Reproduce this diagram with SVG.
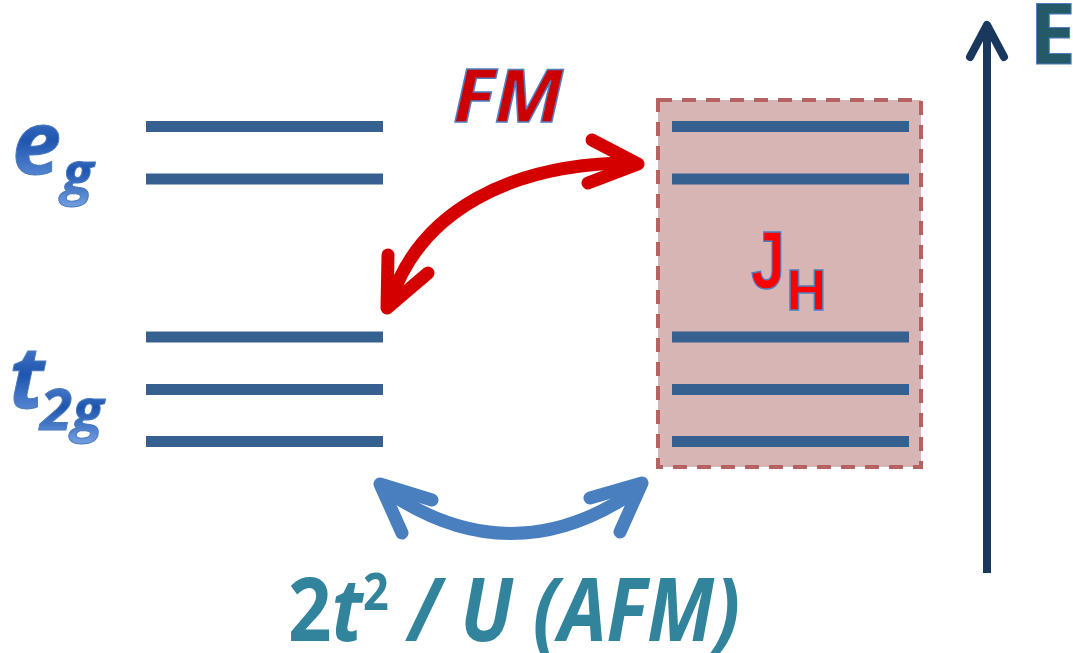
<svg xmlns="http://www.w3.org/2000/svg" width="1073" height="653" viewBox="0 0 1073 653">
<defs>
<linearGradient id="blueGrad" x1="0" y1="0" x2="0" y2="1">
<stop offset="0" stop-color="#6d9be0"/>
<stop offset="0.5" stop-color="#1f55b0"/>
<stop offset="1" stop-color="#7aa6e6"/>
</linearGradient>
<style>
.lvl{stroke:#36608f;stroke-width:11;fill:none}
.fm{stroke:#d40000;stroke-width:13;fill:none;stroke-linecap:round;stroke-linejoin:round}
.afm{stroke:#4a7fbf;stroke-width:13;fill:none;stroke-linecap:round;stroke-linejoin:round}
.lbl{font-family:"Open Sans","Liberation Sans",sans-serif;font-weight:bold}
.orb{fill:url(#blueGrad);stroke:#4a7ab8;stroke-width:1;font-style:italic}
.red{fill:#ff0000;stroke:#4f7fbf;stroke-width:1.5}
</style>
</defs>
<rect width="1073" height="653" fill="#ffffff"/>
<g id="jh-box">
<rect x="658" y="100" width="263" height="367" fill="#d8b5b5" stroke="#b56262" stroke-width="4" stroke-dasharray="14 10"/>
</g>
<g id="left-levels">
<line class="lvl" x1="146" y1="126.5" x2="383" y2="126.5"/>
<line class="lvl" x1="146" y1="179" x2="383" y2="179"/>
<line class="lvl" x1="146" y1="337" x2="383" y2="337"/>
<line class="lvl" x1="146" y1="389.5" x2="383" y2="389.5"/>
<line class="lvl" x1="146" y1="441.5" x2="383" y2="441.5"/>
</g>
<g id="right-levels">
<line class="lvl" x1="672" y1="126.5" x2="909" y2="126.5"/>
<line class="lvl" x1="672" y1="179" x2="909" y2="179"/>
<line class="lvl" x1="672" y1="337" x2="909" y2="337"/>
<line class="lvl" x1="672" y1="389.5" x2="909" y2="389.5"/>
<line class="lvl" x1="672" y1="441.5" x2="909" y2="441.5"/>
</g>
<g id="label-eg">
<text class="lbl orb" x="12" y="174" font-size="88">e</text>
<text class="lbl orb" x="62" y="193" font-size="58">g</text>
</g>
<g id="label-t2g">
<text class="lbl orb" x="9" y="408" font-size="86">t</text>
<text class="lbl orb" x="40" y="430" font-size="58">2g</text>
</g>
<g id="label-fm">
<text class="lbl" x="453" y="122" font-size="74" font-style="italic" fill="#cc0000" stroke="#4f7fbf" stroke-width="1.5" textLength="110" lengthAdjust="spacingAndGlyphs">FM</text>
</g>
<g id="label-jh">
<text class="red" x="751" y="288" font-family="'Liberation Sans',sans-serif" font-weight="bold" font-size="82" textLength="34" lengthAdjust="spacingAndGlyphs">J</text>
<text class="lbl red" x="785" y="310" font-size="56">H</text>
</g>
<g id="label-e">
<text class="lbl" x="1029" y="64" font-size="84" fill="#245a68" stroke="#4f7fbf" stroke-width="1">E</text>
</g>
<g id="label-afm">
<text class="lbl" x="288" y="641" font-size="88" fill="#31849b" textLength="452" lengthAdjust="spacingAndGlyphs">2<tspan font-style="italic">t</tspan><tspan font-size="52" dy="-31">2</tspan><tspan dy="31" font-style="italic"> / U (AFM)</tspan></text>
</g>
<g id="connectors">
<path class="fm" d="M 391,300 C 420,212 510,163 632,163"/>
<polyline class="fm" points="592,140 638,164 588,183"/>
<polyline class="fm" points="388,255 387,308 428,273"/>
<path class="afm" d="M 388,492 Q 511,575 634,492"/>
<polyline class="afm" points="432,500 380,484 402,533"/>
<polyline class="afm" points="590,498 642,483 620,532"/>
<line x1="987" y1="573" x2="987" y2="27" stroke="#1a375e" stroke-width="8"/>
<polyline points="970,57 987,25 1004,57" fill="none" stroke="#1a375e" stroke-width="8" stroke-linecap="round" stroke-linejoin="round"/>
</g>
</svg>
